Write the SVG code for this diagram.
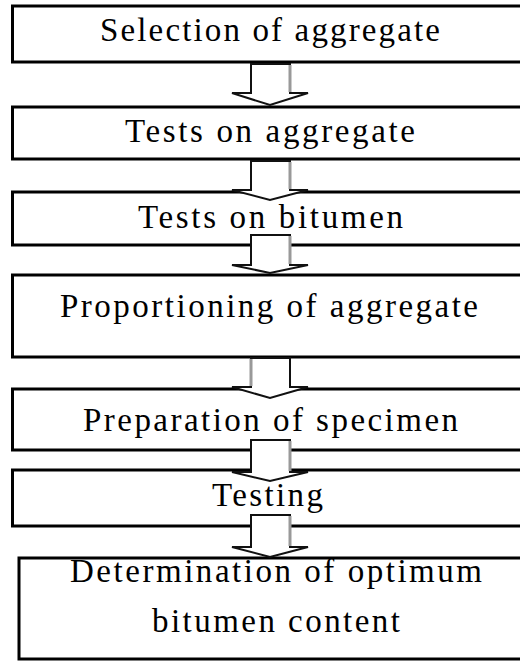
<svg xmlns="http://www.w3.org/2000/svg" width="520" height="662" viewBox="0 0 520 662">
<style>
.box{fill:#fff;stroke:#000;stroke-width:3}
.lbl{font-family:"Liberation Serif",serif;font-size:33px;fill:#000}
.arr{fill:#fff;stroke:#111;stroke-width:2;stroke-linejoin:miter}
.shade{stroke:#999;stroke-width:3;fill:none}
</style>
<rect width="520" height="662" fill="#fff"/>
<g id="n1"><rect class="box" x="12.5" y="6" width="520" height="56"/><text class="lbl" x="100" y="41" textLength="340" lengthAdjust="spacing">Selection of aggregate</text></g>
<g id="n2"><rect class="box" x="12.5" y="107" width="520" height="52"/><text class="lbl" x="125" y="142" textLength="290" lengthAdjust="spacing">Tests on aggregate</text></g>
<g id="n3"><rect class="box" x="12.5" y="192" width="520" height="53"/><text class="lbl" x="138" y="228" textLength="265" lengthAdjust="spacing">Tests on bitumen</text></g>
<g id="n4"><rect class="box" x="12.5" y="275" width="520" height="82"/><text class="lbl" x="60" y="317" textLength="418" lengthAdjust="spacing">Proportioning of aggregate</text></g>
<g id="n5"><rect class="box" x="12.5" y="389" width="520" height="61"/><text class="lbl" x="83" y="431" textLength="375" lengthAdjust="spacing">Preparation of specimen</text></g>
<g id="n6"><rect class="box" x="12.5" y="470" width="520" height="56"/><text class="lbl" x="212" y="506" textLength="111" lengthAdjust="spacing">Testing</text></g>
<g id="n7"><rect class="box" x="19" y="558" width="520" height="101"/><text class="lbl" x="70" y="582" textLength="412" lengthAdjust="spacing">Determination of optimum</text><text class="lbl" x="152" y="632" textLength="248" lengthAdjust="spacing">bitumen content</text></g>
<g id="connectors">
<path class="arr" d="M251,64 H290 V93 H308 L270,105 L232,93 H251 Z"/><path class="shade" d="M290,65 V92"/>
<path class="arr" d="M251,161 H290 V190 H308 L270,200 L232,190 H251 Z"/><path class="shade" d="M290,162 V189"/>
<path class="arr" d="M251,235 H290 V265 H308 L270,273 L232,265 H251 Z"/><path class="shade" d="M290,236 V264"/>
<path class="arr" d="M251,358 H290 V387 H308 L270,398 L232,387 H251 Z"/><path class="shade" d="M251,359 V386"/>
<path class="arr" d="M251,440 H290 V472 H308 L270,481 L232,472 H251 Z"/><path class="shade" d="M290,441 V471"/>
<path class="arr" d="M251,515 H290 V547 H308 L270,557 L232,547 H251 Z"/><path class="shade" d="M290,516 V546"/>
</g>
</svg>
